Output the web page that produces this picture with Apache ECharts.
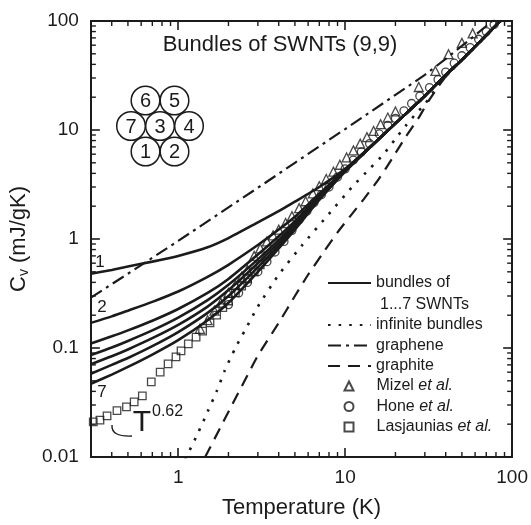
<!DOCTYPE html>
<html><head><meta charset="utf-8">
<script src="https://cdn.jsdelivr.net/npm/echarts@6/dist/echarts.min.js"></script>
<style>html,body{margin:0;padding:0;background:#fff}#c{width:531px;height:525px}</style>
</head><body><div id="c"></div>
<script>
// ---------- data ----------
const temps = [0.3,0.4,0.5,0.7,1,1.5,2,3,4,5,7,10,15,20,30,40,50,70,85];
const bundle1 = [0.48,0.52,0.56,0.62,0.70,0.84,1.02,1.42,1.8,2.2,3.0,4.4,7.6,11.5,20.5,32,44,74,100];
const bundle2 = [0.17,0.195,0.22,0.265,0.33,0.45,0.58,0.88,1.22,1.6,2.6,4.3,7.6,11.5,20.5,32,44,74,100];
const bundle3 = [0.11,0.128,0.145,0.178,0.228,0.32,0.43,0.72,1.06,1.46,2.5,4.3,7.6,11.5,20.5,32,44,74,100];
const bundle4 = [0.086,0.101,0.116,0.145,0.19,0.275,0.38,0.65,0.98,1.38,2.42,4.25,7.6,11.5,20.5,32,44,74,100];
const bundle5 = [0.071,0.084,0.097,0.123,0.163,0.24,0.34,0.60,0.92,1.32,2.37,4.2,7.6,11.5,20.5,32,44,74,100];
const bundle6 = [0.058,0.070,0.081,0.104,0.14,0.21,0.30,0.55,0.87,1.27,2.33,4.2,7.6,11.5,20.5,32,44,74,100];
const bundle7 = [0.047,0.057,0.067,0.087,0.118,0.18,0.26,0.50,0.82,1.22,2.28,4.15,7.6,11.5,20.5,32,44,74,100];

const grapheneT = [0.3,0.5,1,2,3,5,10,20,30,40,50,60,70,76];
const grapheneC = [0.29,0.48,0.96,1.95,2.95,5.0,10.2,21,32,45,59,74,90,100];

const infiniteT = [1.1,1.3,1.5,1.7,1.9,2.2,2.6,3,4,5.5,8,11,14,17,20,23,26.4,30,35,40,50,70,85];
const infiniteC = [0.0095,0.016,0.026,0.04,0.062,0.1,0.16,0.24,0.47,0.87,1.7,3.0,4.4,6.0,8.3,10.9,14,17.3,24,31,43.5,74,100];

const graphiteT = [1.45,1.8,2.1,2.5,3,4,5,6,7.3,9,11,13,16,19,23,27.6,31.6,40,50,70,85];
const graphiteC = [0.01,0.019,0.03,0.05,0.085,0.17,0.3,0.47,0.73,1.15,1.7,2.35,3.6,5.4,8.6,13,18.5,31,43.5,74,100];

const mizelT = [1.35,1.5,1.65,1.8,2.0,2.2,2.4,2.6,2.85,3.1,3.4,3.7,4.0,4.4,4.8,5.3,5.8,6.4,7.0,7.7,8.5,9.3,10.2,11.2,12.3,13.5,14.8,16.3,18,20,27.6,34.7,41.6,50,58];
const mizelC = [0.15,0.18,0.22,0.26,0.32,0.38,0.45,0.52,0.70,0.82,0.95,1.08,1.22,1.4,1.62,1.92,2.22,2.62,3.05,3.55,4.15,4.8,5.6,6.5,7.5,8.6,9.8,11.3,13,14.8,24.8,34.8,49.6,63,77];

const honeT = [2.0,2.3,2.6,3.0,3.4,3.8,4.3,4.8,5.3,5.9,6.5,7.2,8.0,9.0,10,11.2,12.5,14,16,18,20,22.5,25,28,32,36,40,45,50,56,63,70,78];
const honeC = [0.25,0.32,0.4,0.5,0.62,0.76,0.95,1.2,1.5,1.8,2.15,2.55,3.0,3.7,4.4,5.3,6.3,7.5,9.2,11,12.8,15,17.5,20.5,24.5,29,34,41,48,57,68,80,93];

const lasjT = [0.31,0.34,0.375,0.43,0.49,0.545,0.61,0.69,0.78,0.87,0.97,1.04,1.15,1.28,1.4,1.55,1.7,1.85,2.0,2.2,2.4,2.6,2.85,3.1];
const lasjC = [0.021,0.0218,0.0238,0.0266,0.0288,0.032,0.0363,0.0488,0.060,0.0714,0.083,0.094,0.109,0.126,0.143,0.17,0.2,0.235,0.27,0.32,0.37,0.43,0.5,0.58];

const xTickValues = [1,10,100];
const xTickLabels = ['1','10','100'];
const yTickValues = [0.01,0.1,1,10,100];
const yTickLabels = ['0.01','0.1','1','10','100'];
const xMinor = [0.4,0.5,0.6,0.7,0.8,0.9,2,3,4,5,6,7,8,9,20,30,40,50,60,70,80,90];
const yMinor = [0.02,0.03,0.04,0.05,0.06,0.07,0.08,0.09,0.2,0.3,0.4,0.5,0.6,0.7,0.8,0.9,2,3,4,5,6,7,8,9,20,30,40,50,60,70,80,90];
const X_MIN = 0.3, X_MAX = 100, Y_MIN = 0.01, Y_MAX = 100;

// ---------- chart ----------
const FONT = '"Liberation Sans", Arial, sans-serif';
const INK = '#1b1b1b';
const pairs = (xs, ys) => xs.map((x, i) => [x, ys[i]]);
function labelFor(vals, labels) {
  return v => {
    for (let i = 0; i < vals.length; i++) if (Math.abs(Math.log10(v) - Math.log10(vals[i])) < 1e-6) return labels[i];
    return '';
  };
}

const bundles = [bundle1, bundle2, bundle3, bundle4, bundle5, bundle6, bundle7];
const series = [];
bundles.forEach(b => series.push({
  type: 'line', name: 'bundles of', data: pairs(temps, b), symbol: 'none',
  smooth: 0.2, silent: true, z: 3,
  lineStyle: { color: INK, width: 2.6 }, itemStyle: { color: INK }
}));
series.push({
  type: 'line', name: 'infinite bundles', data: pairs(infiniteT, infiniteC), symbol: 'none',
  smooth: 0.2, silent: true, z: 3,
  lineStyle: { color: INK, width: 2.6, type: [2.6, 8] }, itemStyle: { color: INK }
});
series.push({
  type: 'line', name: 'graphene', data: pairs(grapheneT, grapheneC), symbol: 'none',
  smooth: false, silent: true, z: 3,
  lineStyle: { color: INK, width: 2.2, type: [13, 5, 3, 5] }, itemStyle: { color: INK }
});
series.push({
  type: 'line', name: 'graphite', data: pairs(graphiteT, graphiteC), symbol: 'none',
  smooth: 0.2, silent: true, z: 3,
  lineStyle: { color: INK, width: 2.2, type: [12, 8] }, itemStyle: { color: INK }
});
const hollow = { color: 'rgba(255,255,255,0)', borderColor: INK, borderWidth: 1.3 };
series.push({ type: 'scatter', name: 'Mizel et al.', data: pairs(mizelT, mizelC), symbol: 'triangle', symbolSize: 9, itemStyle: hollow, z: 4, silent: true });
series.push({ type: 'scatter', name: 'Hone et al.', data: pairs(honeT, honeC), symbol: 'circle', symbolSize: 8, itemStyle: hollow, z: 4, silent: true });
series.push({ type: 'scatter', name: 'Lasjaunias et al.', data: pairs(lasjT, lasjC), symbol: 'rect', symbolSize: 7.5, itemStyle: hollow, z: 4, silent: true });

// minor ticks on all four sides, placed through the axes' own scales
const tickData = [];
xMinor.forEach(v => { tickData.push([v, Y_MIN, 0]); tickData.push([v, Y_MAX, 1]); });
yMinor.forEach(v => { tickData.push([X_MIN, v, 2]); tickData.push([X_MAX, v, 3]); });
series.push({
  type: 'custom', data: tickData, silent: true, z: 10, clip: false,
  renderItem: (params, api) => {
    const p = api.coord([api.value(0), api.value(1)]);
    const k = api.value(2), L = 5;
    let x2 = p[0], y2 = p[1];
    if (k === 0) y2 -= L; else if (k === 1) y2 += L; else if (k === 2) x2 += L; else x2 -= L;
    return { type: 'line', shape: { x1: p[0], y1: p[1], x2: x2, y2: y2 }, style: { stroke: INK, lineWidth: 1.4 } };
  }
});

const axisLine = { show: true, lineStyle: { color: INK, width: 2 } };
const majorTick = { show: true, inside: true, length: 9, lineStyle: { color: INK, width: 1.6 } };
const tickFont = { color: INK, fontSize: 19, fontFamily: FONT };
const nameFont = { color: INK, fontSize: 22, fontFamily: FONT };

const legendText = {
  color: INK, fontSize: 16, fontFamily: FONT, lineHeight: 18,
  rich: { i: { fontStyle: 'italic', color: INK, fontSize: 16, fontFamily: FONT, lineHeight: 18 } }
};
const markerLegendText = Object.assign({}, legendText, { padding: [0, 0, 0, 18] });
const legendFmt = name => name.replace(' et al.', ' {i|et al.}');
const noSymbol = n => ({ name: n, itemStyle: { opacity: 0 } });

const circles = [
  { n: '6', x: 145.5, y: 100.5 }, { n: '5', x: 174.5, y: 100.5 },
  { n: '7', x: 131, y: 126 }, { n: '3', x: 160, y: 126 }, { n: '4', x: 189, y: 126 },
  { n: '1', x: 145.5, y: 151.5 }, { n: '2', x: 174.5, y: 151.5 }
];
const graphics = [];
circles.forEach(c => {
  graphics.push({ type: 'circle', shape: { cx: c.x, cy: c.y, r: 14.3 }, style: { fill: '#fff', stroke: INK, lineWidth: 1.5 }, z: 20 });
});
circles.forEach(c => {
  graphics.push({ type: 'text', x: c.x, y: c.y + 1, style: { text: c.n, fill: INK, fontSize: 20, fontFamily: FONT, align: 'center', verticalAlign: 'middle' }, z: 21 });
});
graphics.push({ type: 'text', x: 280, y: 45, style: { text: 'Bundles of SWNTs (9,9)', fill: INK, fontSize: 22, fontFamily: FONT, align: 'center', verticalAlign: 'middle' }, z: 20 });
graphics.push({ type: 'text', x: 100, y: 262, style: { text: '1', fill: INK, fontSize: 17, fontFamily: FONT, align: 'center', verticalAlign: 'middle' }, z: 20 });
graphics.push({ type: 'text', x: 102, y: 307, style: { text: '2', fill: INK, fontSize: 17, fontFamily: FONT, align: 'center', verticalAlign: 'middle' }, z: 20 });
graphics.push({ type: 'text', x: 102, y: 392, style: { text: '7', fill: INK, fontSize: 17, fontFamily: FONT, align: 'center', verticalAlign: 'middle' }, z: 20 });
graphics.push({ type: 'text', x: 142, y: 423, style: { text: 'T', fill: INK, fontSize: 30, fontFamily: FONT, align: 'center', verticalAlign: 'middle' }, z: 20 });
graphics.push({ type: 'text', x: 152, y: 412, style: { text: '0.62', fill: INK, fontSize: 16, fontFamily: FONT, align: 'left', verticalAlign: 'middle' }, z: 20 });
graphics.push({ type: 'bezierCurve', shape: { x1: 112, y1: 425, x2: 132, y2: 436, cpx1: 111, cpy1: 437 }, style: { stroke: INK, fill: null, lineWidth: 1.4 }, z: 20 });
graphics.push({ type: 'text', x: 380, y: 305, style: { text: '1...7 SWNTs', fill: INK, fontSize: 16, fontFamily: FONT, align: 'left', verticalAlign: 'middle' }, z: 20 });

const option = {
  animation: false,
  backgroundColor: '#fff',
  grid: { left: 85, right: 17, top: 21, bottom: 68, containLabel: false },
  xAxis: [
    { type: 'log', logBase: 10, min: X_MIN, max: X_MAX, position: 'bottom',
      axisLine: axisLine, axisTick: majorTick, splitLine: { show: false },
      axisLabel: Object.assign({ margin: 11, showMinLabel: false, formatter: labelFor(xTickValues, xTickLabels) }, tickFont),
      name: 'Temperature (K)', nameLocation: 'middle', nameGap: 40, nameTextStyle: nameFont },
    { type: 'log', logBase: 10, min: X_MIN, max: X_MAX, position: 'top',
      axisLine: axisLine, axisTick: majorTick, splitLine: { show: false }, axisLabel: { show: false } }
  ],
  yAxis: [
    { type: 'log', logBase: 10, min: Y_MIN, max: Y_MAX, position: 'left',
      axisLine: axisLine, axisTick: majorTick, splitLine: { show: false },
      axisLabel: Object.assign({ margin: 12, formatter: labelFor(yTickValues, yTickLabels) }, tickFont),
      name: '{c|C}{s|v}{c| (mJ/gK)}', nameLocation: 'middle', nameGap: 52, nameRotate: 90,
      nameTextStyle: Object.assign({}, nameFont, { rich: {
        c: { fontSize: 22, fontFamily: FONT, color: INK },
        s: { fontSize: 14, fontFamily: FONT, color: INK, verticalAlign: 'bottom', padding: [10, 0, 0, 0] }
      } }) },
    { type: 'log', logBase: 10, min: Y_MIN, max: Y_MAX, position: 'right',
      axisLine: axisLine, axisTick: majorTick, splitLine: { show: false }, axisLabel: { show: false } }
  ],
  legend: [
    { data: [noSymbol('bundles of')], left: 327, top: 274, orient: 'vertical', padding: 0,
      itemWidth: 43, itemHeight: 9, selectedMode: false, textStyle: legendText },
    { data: [noSymbol('infinite bundles'), noSymbol('graphene'), noSymbol('graphite')],
      left: 327, top: 316, orient: 'vertical', padding: 0, itemGap: 2.5,
      itemWidth: 43, itemHeight: 9, selectedMode: false, textStyle: legendText },
    { data: ['Mizel et al.', 'Hone et al.', 'Lasjaunias et al.'],
      left: 343.5, top: 377, orient: 'vertical', padding: 0, itemGap: 2.5,
      itemWidth: 9, itemHeight: 9, selectedMode: false, textStyle: markerLegendText, formatter: legendFmt }
  ],
  graphic: graphics,
  series: series
};
const chart = echarts.init(document.getElementById('c'));
chart.setOption(option);
</script>
</body></html>
